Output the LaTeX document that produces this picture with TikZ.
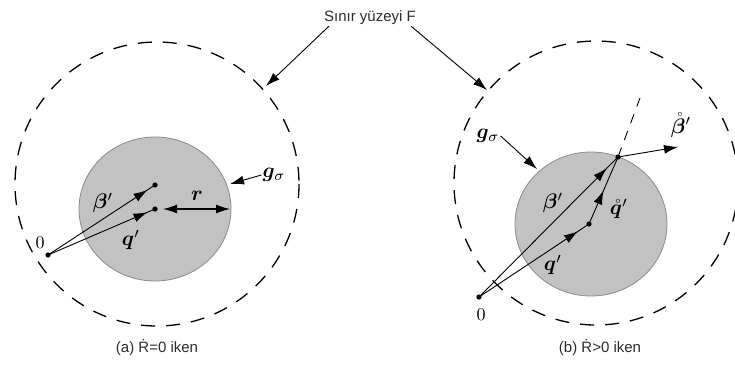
\documentclass[tikz,border=0pt]{standalone}
\usepackage{bm}
\usepackage{graphicx}
\usepackage{fontspec}
\newfontfamily\capfont{Liberation Sans}
\newcommand{\mlab}[1]{\scalebox{2.1}{$#1$}}
\definecolor{cDisc}{HTML}{C2C2C2}
\definecolor{cDiscLine}{HTML}{8A8A8A}
\definecolor{cText}{HTML}{2B2B2B}
\usetikzlibrary{arrows.meta,decorations.markings}
\tikzset{
  bound-line/.style={draw=black,line width=1.3pt,dash pattern=on 14pt off 11pt},
  disc-fill/.style={fill=cDisc,draw=cDiscLine,line width=0.8pt},
  vec-line/.style={draw=black,line width=0.9pt},
  vec-mid/.style={postaction={decorate},decoration={markings,
    mark=at position #1 with {\arrow{Latex[length=14pt,width=9pt]}}}},
  vec-end/.style={-{Latex[length=14pt,width=9pt]},line width=0.9pt},
  vec-both/.style={{Latex[length=14pt,width=9pt]}-{Latex[length=14pt,width=9pt]},line width=1.3pt},
  math-label/.style={inner sep=1pt},
  cap-label/.style={font=\capfont\fontsize{15}{17}\selectfont,text=cText,inner sep=1pt},
}

\begin{document}
\begin{tikzpicture}[x=1pt,y=-1pt]
  \useasboundingbox (0,0) rectangle (735,365);
  % sinir yuzeyleri ve g_sigma diskleri
  \draw[bound-line] (157,184) circle (142);
  \draw[bound-line] (596,183) circle (142);
  \draw[disc-fill] (155,209) ellipse [x radius=76,y radius=72];
  \draw[disc-fill] (591,224) ellipse [x radius=76,y radius=72];

  % (a)
  \coordinate (oA) at (48,255);
  \coordinate (bA) at (155,185);
  \coordinate (qA) at (155,209);
  \coordinate (rS) at (163,209);
  \coordinate (rA) at (230,209);
  \coordinate (gA) at (230,184);
  \coordinate (fA) at (266,86);
  \draw[vec-line,vec-mid=0.93] (oA) -- (bA);
  \draw[vec-line,vec-mid=0.93] (oA) -- (qA);
  \draw[vec-both] (rS) -- (rA);
  \foreach \p in {oA,bA,qA} \fill (\p) circle (2.6);
  \node[math-label] (zeroA) at (40,243) {\scalebox{1.8}{$0$}};
  \node[math-label] (betaA) at (103,203) {\mlab{\bm{\beta}'}};
  \node[math-label] (qvA) at (131,240) {\mlab{\bm{q}'}};
  \node[math-label] (rlA) at (197,196) {\mlab{\bm{r}}};
  \node[math-label] (gsA) at (274,175) {\mlab{\bm{g}_\sigma}};
  \draw[vec-end] (gsA.west) -- (gA);

  % (b)
  \coordinate (oB) at (479,297);
  \coordinate (qB) at (589,224);
  \coordinate (bB) at (618,157);
  \coordinate (dB) at (640,98);
  \coordinate (vB) at (678,147);
  \coordinate (gB) at (537,169);
  \coordinate (fB) at (487,90);
  \draw[vec-line,vec-mid=0.92] (oB) -- (bB);
  \draw[vec-line,vec-mid=0.9] (oB) -- (qB);
  \draw[vec-line,vec-mid=0.5] (qB) -- (bB);
  \draw[vec-line,dash pattern=on 10pt off 8pt] (bB) -- (dB);
  \draw[vec-end] (bB) -- (vB);
  \foreach \p in {oB,qB,bB} \fill (\p) circle (2.6);
  \node[math-label] (zeroB) at (481,315) {\scalebox{1.8}{$0$}};
  \node[math-label] (betaB) at (553,203) {\mlab{\bm{\beta}'}};
  \node[math-label] (qvB) at (553,265) {\mlab{\bm{q}'}};
  \node[math-label] (qdB) at (619,209) {\mlab{\mathring{\bm{q}}'}};
  \node[math-label] (bdB) at (681,125) {\mlab{\mathring{\bm{\beta}}'}};
  \node[math-label] (gsB) at (488,136) {\mlab{\bm{g}_\sigma}};
  \draw[vec-end] (gsB.east) -- (gB);

  % ortak etiket
  \node[cap-label] (lblF) at (370,18) {Sınır yüzeyi F};
  \draw[vec-end] ([xshift=6pt]lblF.south west) -- (fA);
  \draw[vec-end] ([xshift=-6pt]lblF.south east) -- (fB);
  \node[cap-label] (capA) at (157,348) {(a) Ṙ=0 iken};
  \node[cap-label] (capB) at (600,348) {(b) Ṙ>0 iken};
\end{tikzpicture}
\end{document}
